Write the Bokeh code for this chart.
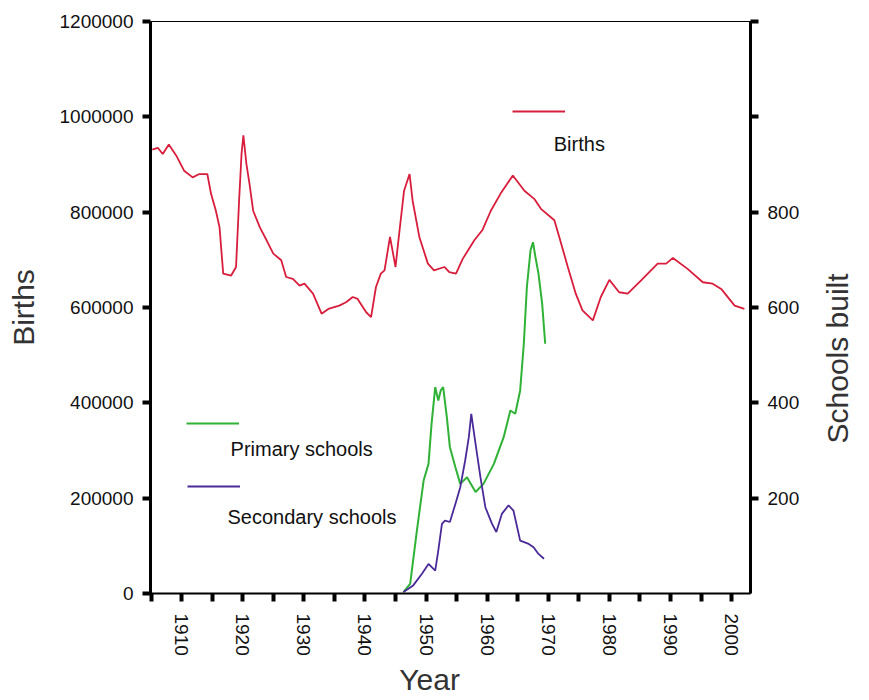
import math
from bokeh.plotting import figure
from bokeh.models import (LinearAxis, Range1d, FixedTicker, NumeralTickFormatter,
                          Legend, LegendItem, Label)
from bokeh.embed import file_html
from bokeh.resources import INLINE

# ---- data ----
birth_year = [1905.2, 1906.1, 1906.9, 1907.9, 1909.1, 1910.4, 1911.8, 1912.9, 1914.2, 1914.8,
              1915.6, 1916.2, 1916.8, 1918.1, 1918.9, 1919.4, 1919.8, 1920.1, 1920.6, 1921.1,
              1921.7, 1922.8, 1923.9, 1925.0, 1926.3, 1927.1, 1928.2, 1929.3, 1930.1, 1931.5,
              1932.9, 1934.0, 1935.8, 1936.9, 1938.0, 1938.8, 1940.2, 1941.0, 1941.8, 1942.6,
              1943.2, 1944.1, 1945.0, 1945.6, 1946.4, 1947.3, 1947.8, 1948.9, 1950.3, 1951.3,
              1953.0, 1953.8, 1954.9, 1956.0, 1957.9, 1959.2, 1960.6, 1962.2, 1964.2, 1966.1,
              1967.7, 1968.8, 1971.0, 1971.8, 1973.2, 1974.5, 1975.6, 1977.3, 1978.6, 1980.0,
              1981.6, 1983.0, 1985.2, 1987.9, 1989.3, 1990.4, 1992.8, 1995.3, 1996.9, 1998.3,
              2000.5, 2002.1]
births = [931000, 935000, 922000, 942000, 919000, 887000, 873000, 880000, 880000, 839000,
          803000, 768000, 671000, 667000, 685000, 824000, 922000, 961000, 901000, 860000,
          803000, 768000, 741000, 713000, 699000, 664000, 660000, 646000, 650000, 629000,
          587000, 597000, 604000, 611000, 622000, 618000, 590000, 580000, 643000, 671000,
          678000, 748000, 685000, 755000, 845000, 880000, 824000, 748000, 692000, 678000,
          685000, 674000, 671000, 702000, 741000, 762000, 803000, 839000, 877000, 845000,
          828000, 807000, 783000, 748000, 685000, 629000, 594000, 573000, 622000, 658000,
          632000, 629000, 657000, 692000, 692000, 704000, 681000, 653000, 650000, 639000,
          604000, 597000]

primary_year = [1946.3, 1947.4, 1948.5, 1949.6, 1950.4, 1950.9, 1951.5, 1952.0, 1952.4, 1952.8,
                1953.4, 1953.9, 1954.8, 1955.6, 1956.7, 1958.1, 1959.4, 1961.1, 1962.7, 1963.8,
                1964.6, 1965.4, 1966.0, 1966.5, 1967.1, 1967.5, 1967.9, 1968.4, 1969.0, 1969.5]
primary = [3, 20, 132, 237, 272, 356, 433, 405, 426, 433,
           370, 307, 265, 230, 244, 213, 230, 272, 328, 384,
           377, 426, 524, 643, 720, 737, 706, 671, 608, 524]

secondary_year = [1946.3, 1947.9, 1949.3, 1950.4, 1951.5, 1952.0, 1952.6, 1953.1, 1953.9, 1954.8,
                  1955.6, 1956.4, 1957.0, 1957.4, 1958.1, 1958.9, 1959.7, 1960.8, 1961.5, 1962.4,
                  1963.5, 1964.3, 1965.4, 1966.8, 1967.6, 1968.4, 1969.3]
secondary = [3, 17, 41, 62, 48, 90, 146, 153, 150, 188,
             223, 279, 328, 377, 314, 244, 181, 146, 129, 167,
             185, 174, 111, 104, 97, 83, 73]

year_ticks = [1910, 1920, 1930, 1940, 1950, 1960, 1970, 1980, 1990, 2000]
year_minor = [1905, 1915, 1925, 1935, 1945, 1955, 1965, 1975, 1985, 1995]
birth_ticks = [0, 200000, 400000, 600000, 800000, 1000000, 1200000]
school_ticks = [200, 400, 600, 800, 1000, 1200]

C_BIRTH = "#d81e3c"
C_PRIM = "#2fb236"
C_SEC = "#4a2a98"
FONT = "Liberation Sans"

p = figure(frame_width=600, frame_height=572,
           min_border_left=150, min_border_top=21, min_border_right=112, min_border_bottom=100,
           x_range=Range1d(1904.9, 2003.1), y_range=Range1d(0, 1200000),
           output_backend="svg", toolbar_location=None, x_axis_location="below")
p.extra_y_ranges = {"schools": Range1d(0, 1200)}
p.grid.visible = False
p.outline_line_color = "black"
p.outline_line_width = 1
p.background_fill_color = "white"
p.border_fill_color = "white"

r_b = p.line(birth_year, births, line_color=C_BIRTH, line_width=1.8)
r_p = p.line(primary_year, primary, line_color=C_PRIM, line_width=2, y_range_name="schools")
r_s = p.line(secondary_year, secondary, line_color=C_SEC, line_width=1.8, y_range_name="schools")

# x axis
xa = p.xaxis[0]
xa.ticker = FixedTicker(ticks=year_ticks, minor_ticks=year_minor)
xa.axis_label = "Year" + "\u00a0" * 5
xa.major_label_orientation = -math.pi / 2
xa.axis_line_width = 2

# left axis
ya = p.yaxis[0]
ya.ticker = FixedTicker(ticks=birth_ticks)
ya.formatter = NumeralTickFormatter(format="0")
ya.axis_label = "Births"
ya.axis_line_width = 3

# right axis
ra = LinearAxis(y_range_name="schools", ticker=FixedTicker(ticks=school_ticks),
                major_label_overrides={1000: "", 1200: ""},
                axis_label="\u00a0" * 18 + "Schools built")
ra.axis_line_width = 3
p.add_layout(ra, "right")

for ax in [xa, ya, ra]:
    ax.major_tick_out = 8
    ax.major_tick_in = 0
    ax.major_tick_line_width = 4
    ax.major_tick_line_color = "black"
    ax.minor_tick_out = 8
    ax.minor_tick_in = 0
    ax.minor_tick_line_width = 4
    ax.minor_tick_line_color = "black"
    ax.axis_line_color = "black"
    ax.major_label_text_font = FONT
    ax.major_label_text_font_size = "19px"
    ax.major_label_text_color = "#111111"
    ax.major_label_standoff = 9
    ax.axis_label_text_font = FONT
    ax.axis_label_text_font_size = "30px"
    ax.axis_label_text_font_style = "normal"
    ax.axis_label_text_color = "#333333"
    ax.axis_label_standoff = 10
ya.minor_tick_out = 0
ra.minor_tick_out = 0
xa.major_label_standoff = 12
xa.axis_label_standoff = 4
ya.axis_label_standoff = 17
ra.axis_label_orientation = math.pi / 2
ra.axis_label_align = "start"
ra.axis_label_standoff = 35

# legend keys (one small legend per series)
def key(renderer, loc):
    lg = Legend(items=[LegendItem(label=" ", renderers=[renderer])], location=loc,
                glyph_width=53, glyph_height=10, label_width=0, label_height=10,
                label_standoff=0, label_text_font_size="1px", padding=0, margin=0,
                spacing=0, border_line_color=None, background_fill_alpha=0)
    p.add_layout(lg, "center")

key(r_b, (362, 477))
key(r_p, (36, 165))
key(r_s, (37, 102))

for txt, x, y in [("Births", 1970.9, 944000), ("Primary schools", 1918.0, 304000),
                  ("Secondary schools", 1917.5, 161000)]:
    p.add_layout(Label(x=x, y=y, text=txt, text_font=FONT, text_font_size="20px",
                       text_baseline="middle", text_align="left", text_color="#111111"))

open("out.html", "w").write(file_html(p, INLINE))
